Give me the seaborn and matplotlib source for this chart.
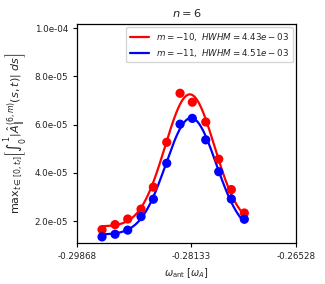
import numpy as np
import matplotlib
matplotlib.use('Agg')
import matplotlib.pyplot as plt
import seaborn as sns

# ── Data ──────────────────────────────────────────────────────────────────────
omega = [-0.29487, -0.29288, -0.29095, -0.28892, -0.28704, -0.28500,
         -0.28297, -0.28110, -0.27905, -0.27707, -0.27515, -0.27317]
amp_m10 = [1.65e-5, 1.86e-5, 2.09e-5, 2.50e-5, 3.41e-5, 5.27e-5,
           7.30e-5, 6.93e-5, 6.11e-5, 4.57e-5, 3.31e-5, 2.34e-5]
amp_m11 = [1.35e-5, 1.46e-5, 1.63e-5, 2.19e-5, 2.91e-5, 4.40e-5,
           6.02e-5, 6.26e-5, 5.37e-5, 4.05e-5, 2.92e-5, 2.08e-5]
modes = [-10, -11]
hwhm = [4.43e-3, 4.51e-3]
colors = ['red', 'blue']

x_ticks = [-0.29868, -0.28133, -0.26528]
y_ticks = [2e-5, 4e-5, 6e-5, 8e-5, 1e-4]
x_lim = (-0.29868, -0.26528)
y_lim = (1.11e-5, 1.017e-4)


def gauss_fit(x, y, hw):
    # gaussian + offset, width fixed by the HWHM from the legend
    x = np.asarray(x); y = np.asarray(y)
    sig = hw / np.sqrt(2 * np.log(2))
    best = None
    for x0 in np.linspace(x.min(), x.max(), 2000):
        g = np.exp(-(x - x0) ** 2 / (2 * sig ** 2))
        M = np.column_stack([np.ones_like(g), g])
        coef, *_ = np.linalg.lstsq(M, y, rcond=None)
        err = np.sum((M @ coef - y) ** 2)
        if best is None or err < best[0]:
            best = (err, x0, coef)
    _, x0, (off, amp) = best
    xf = np.linspace(x.min(), x.max(), 300)
    return xf, off + amp * np.exp(-(xf - x0) ** 2 / (2 * sig ** 2))


sns.set_style('ticks')
plt.rcParams['font.size'] = 6.3
plt.rcParams['mathtext.fontset'] = 'dejavusans'

fig = plt.figure(figsize=(3.25, 2.84), dpi=100)
ax = fig.add_axes([0.237, 0.1455, 0.674, 0.77])

for m, hw, c, ys in zip(modes, hwhm, colors, [amp_m10, amp_m11]):
    xf, yf = gauss_fit(omega, ys, hw)
    sns.lineplot(x=xf, y=yf, ax=ax, color=c, linewidth=1.6,
                 label=rf'$m={m},\ HWHM={hw:.2e}$')
    sns.scatterplot(x=omega, y=ys, ax=ax, color=c, s=44, edgecolor='none',
                    zorder=3, legend=False)

ax.set_xlim(*x_lim)
ax.set_ylim(*y_lim)
ax.set_xticks(x_ticks)
ax.set_xticklabels([f'{v:.5f}' for v in x_ticks])
ax.set_yticks(y_ticks)
ax.set_yticklabels([f'{v:.1e}' for v in y_ticks])
ax.tick_params(length=3, width=0.8, colors='black', labelcolor='#222222')
for s in ax.spines.values():
    s.set_color('black')
    s.set_linewidth(0.9)

ax.set_xlabel(r'$\omega_{\rm ant}\ [\omega_A]$', fontsize=7)
ax.set_ylabel(r'$\mathrm{max}_{t\in[0,t_f]}\left[\int_0^1 |\hat{A}_{\|}^{(6,m)}(s,t)|\ ds\right]$',
              fontsize=8, labelpad=3)
ax.set_title(r'$n=6$', fontsize=8.2, pad=5)
ax.legend(loc='upper right', fontsize=6.3, frameon=True, handlelength=2.2,
          borderpad=0.4, labelspacing=0.45, borderaxespad=0.4)

fig.savefig('out.png', dpi=100)
